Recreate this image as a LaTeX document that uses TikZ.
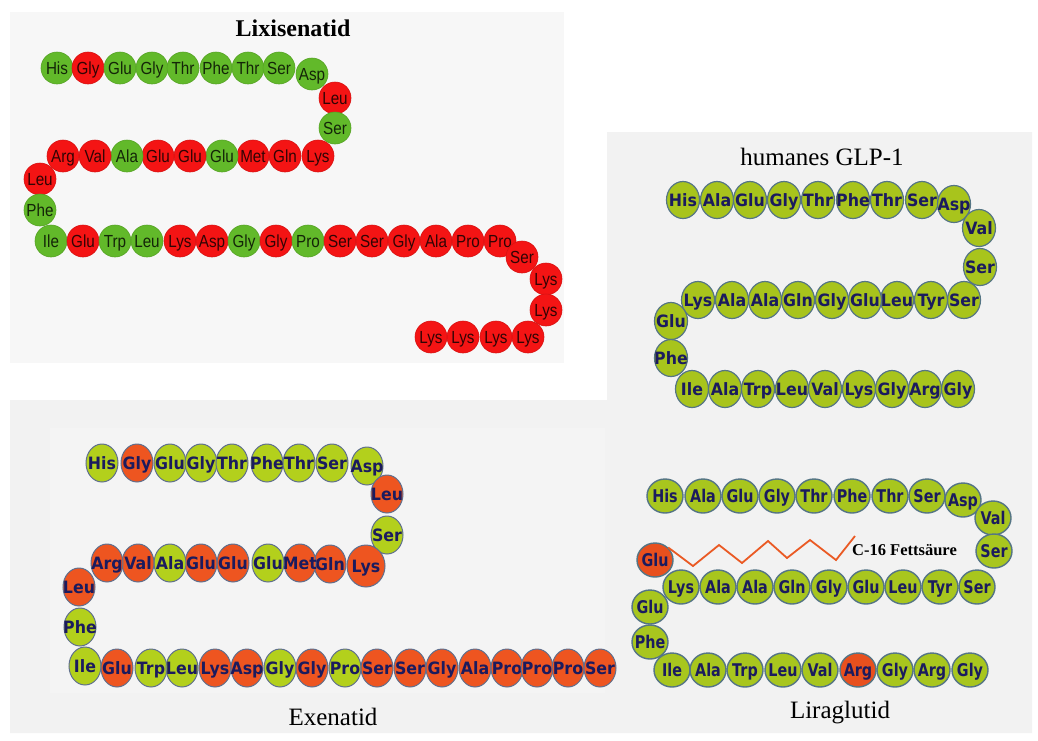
\documentclass[tikz,border=0pt]{standalone}
\usepackage{fontspec}
\setmainfont{Liberation Serif}
\newfontfamily\lxfont[FakeStretch=0.87]{Liberation Sans}
\newfontfamily\exfont[FakeStretch=0.93]{DejaVu Sans}
\newfontfamily\lgfont[FakeStretch=0.82]{DejaVu Sans}
\usetikzlibrary{shapes.geometric}
\definecolor{LG}{HTML}{62B92A}
\definecolor{LR}{HTML}{F41414}
\definecolor{EG}{HTML}{B3D01C}
\definecolor{EO}{HTML}{EE5520}
\definecolor{GG}{HTML}{A8C41C}
\definecolor{RG}{HTML}{A8C61E}
\definecolor{RR}{HTML}{E8501E}
\definecolor{navy}{HTML}{1B1B5E}
\definecolor{exline}{HTML}{5F6F8E}
\definecolor{glline}{HTML}{557585}
\definecolor{panelA}{HTML}{F7F7F7}
\definecolor{panelB}{HTML}{F2F2F2}
\definecolor{panelC}{HTML}{F4F4F4}
\definecolor{fatty}{HTML}{EA5A24}
\tikzset{
  lx/.style={circle, minimum size=32pt, inner sep=0pt,
    font=\lxfont\fontsize{17.5}{17.5}\selectfont, text=black, text opacity=0.8,
    text height=12.5pt, text depth=0pt, line width=0.6pt},
  ex/.style={ellipse, minimum width=32pt, minimum height=38pt, inner sep=0pt,
    font=\exfont\bfseries\fontsize{17}{17}\selectfont, text=navy,
    text height=12.4pt, text depth=0pt, draw=exline, line width=1pt},
  exbig/.style={ex, minimum width=38pt, minimum height=42pt},
  gl/.style={ellipse, minimum width=33pt, minimum height=37pt, inner sep=0pt,
    font=\exfont\bfseries\fontsize{17}{17}\selectfont, text=navy,
    text height=12.4pt, text depth=0pt, draw=glline, line width=1.2pt, fill=GG},
  lg/.style={ellipse, minimum width=36pt, minimum height=34pt, inner sep=0pt,
    font=\lgfont\bfseries\fontsize{17.5}{17.5}\selectfont, text=navy,
    text height=12.8pt, text depth=0pt, draw=glline, line width=1.4pt},
  title/.style={inner sep=0pt, font=\fontsize{25}{25}\selectfont, text=black},
  fattyline/.style={draw=fatty, line width=1.8pt, line join=miter},
}
\begin{document}
\begin{tikzpicture}[x=1pt,y=-1pt]
\useasboundingbox (0,0) rectangle (1038,740);
\fill[white] (0,0) rectangle (1038,740);
% panels
\fill[panelA] (10,12) rectangle (564,363);
\fill[panelB] (607,132) -- (1032,132) -- (1032,733) -- (10,733) -- (10,400) -- (607,400) -- cycle;
\fill[panelC] (50,428) rectangle (605,693);

% ---------- Lixisenatid ----------
\node[title, font=\bfseries\fontsize{24}{24}\selectfont] (tLix) at (293,28) {Lixisenatid};
\foreach \i/\x/\y/\t/\c in {
 1/57/68/His/LG, 2/88/68/Gly/LR, 3/120/68/Glu/LG, 4/152/68/Gly/LG, 5/183/68/Thr/LG,
 6/216/68/Phe/LG, 7/248/68/Thr/LG, 8/279/68/Ser/LG, 9/312/74/Asp/LG,
 10/335/98/Leu/LR, 11/335/128/Ser/LG,
 12/318/156/Lys/LR, 13/285/156/Gln/LR, 14/253/156/Met/LR, 15/222/156/Glu/LG,
 16/190/156/Glu/LR, 17/158/156/Glu/LR, 18/127/156/Ala/LG, 19/95/156/Val/LR, 20/63/156/Arg/LR,
 21/40/179/Leu/LR, 22/40/210/Phe/LG,
 23/51/241/Ile/LG, 24/83/241/Glu/LR, 25/115/241/Trp/LG, 26/147/241/Leu/LG, 27/180/241/Lys/LR,
 28/212/241/Asp/LR, 29/244/241/Gly/LG, 30/276/241/Gly/LR, 31/308/241/Pro/LG, 32/340/241/Ser/LR,
 33/372/241/Ser/LR, 34/404/241/Gly/LR, 35/436/241/Ala/LR, 36/468/241/Pro/LR, 37/500/241/Pro/LR,
 38/522/257/Ser/LR, 39/546/279/Lys/LR, 40/546/310/Lys/LR,
 41/528/337/Lys/LR, 42/496/337/Lys/LR, 43/463/337/Lys/LR, 44/431/337/Lys/LR}
 \node[lx, fill=\c, draw=\c!88!black] (lx\i) at (\x,\y) {\makebox[0pt]{\t}};

% ---------- humanes GLP-1 ----------
\node[title] (tGLP) at (822,157) {humanes GLP-1};
\foreach \i/\x/\y/\t in {
 1/683/200/His, 2/717/200/Ala, 3/750/200/Glu, 4/784/200/Gly, 5/818/200/Thr,
 6/853/200/Phe, 7/887/200/Thr, 8/922/200/Ser, 9/954/204/Asp,
 10/979/228/Val, 11/980/267/Ser,
 12/964/300/Ser, 13/931/300/Tyr, 14/897/300/Leu, 15/865/300/Glu, 16/832/300/Gly,
 17/798/300/Gln, 18/765/300/Ala, 19/732/300/Ala, 20/698/300/Lys,
 21/671/321/Glu, 22/671/358/Phe,
 23/692/389/Ile, 24/725/389/Ala, 25/758/389/Trp, 26/792/389/Leu, 27/825/389/Val,
 28/859/389/Lys, 29/892/389/Gly, 30/925/389/Arg, 31/958/389/Gly}
 \node[gl] (gl\i) at (\x,\y) {\makebox[0pt]{\t}};

% ---------- Exenatid ----------
\node[title] (tExe) at (333,717) {Exenatid};
\foreach \i/\x/\y/\t/\c in {
 1/102/463/His/EG, 2/137/463/Gly/EO, 3/170/463/Glu/EG, 4/201/463/Gly/EG, 5/232/463/Thr/EG,
 6/267/463/Phe/EG, 7/299/463/Thr/EG, 8/332/463/Ser/EG, 9/367/466/Asp/EG,
 10/387/494/Leu/EO, 11/387/535/Ser/EG,
 13/330/564/Gln/EO, 14/300/563/Met/EO, 15/268/563/Glu/EG,
 16/233/563/Glu/EO, 17/201/563/Glu/EO, 18/170/563/Ala/EG, 19/138/563/Val/EO, 20/107/563/Arg/EO,
 21/79/587/Leu/EO, 22/80/627/Phe/EG, 23/85/666/Ile/EG,
 24/117/668/Glu/EO, 25/151/668/Trp/EG, 26/182/668/Leu/EG, 27/215/668/Lys/EO, 28/247/668/Asp/EO,
 29/280/668/Gly/EG, 30/312/668/Gly/EO, 31/345/668/Pro/EG, 32/377/668/Ser/EO, 33/410/668/Ser/EO,
 34/442/668/Gly/EO, 35/475/668/Ala/EO, 36/507/668/Pro/EO, 37/537/668/Pro/EO, 38/568/668/Pro/EO,
 39/600/668/Ser/EO}
 \node[ex, fill=\c] (ex\i) at (\x,\y) {\makebox[0pt]{\t}};
\node[exbig, fill=EO] (ex12) at (366,566) {\makebox[0pt]{Lys}};

% ---------- Liraglutid ----------
\node[title] (tLir) at (840,713) {Liraglutid};
\foreach \i/\x/\y/\t/\c in {
 1/665/496/His/RG, 2/703/496/Ala/RG, 3/740/496/Glu/RG, 4/777/496/Gly/RG, 5/814/496/Thr/RG,
 6/852/496/Phe/RG, 7/890/496/Thr/RG, 8/927/496/Ser/RG, 9/963/500/Asp/RG,
 10/993/518/Val/RG, 11/994/551/Ser/RG,
 12/977/587/Ser/RG, 13/940/587/Tyr/RG, 14/903/587/Leu/RG, 15/866/587/Glu/RG, 16/829/587/Gly/RG,
 17/792/587/Gln/RG, 18/755/587/Ala/RG, 19/718/587/Ala/RG, 20/681/587/Lys/RG,
 21/650/607/Glu/RG, 22/650/642/Phe/RG,
 23/672/670/Ile/RG, 24/708/670/Ala/RG, 25/745/670/Trp/RG, 26/783/670/Leu/RG, 27/820/670/Val/RG,
 28/858/670/Arg/RR, 29/895/670/Gly/RG, 30/932/670/Arg/RG, 31/970/670/Gly/RG}
 \node[lg, fill=\c] (lg\i) at (\x,\y) {\makebox[0pt]{\t}};
\node[lg, fill=RR] (lgF) at (655,560) {\makebox[0pt]{Glu}};

% fatty acid chain
\coordinate (z1) at (693,566);
\coordinate (z2) at (719,545);
\coordinate (z3) at (742,563);
\coordinate (z4) at (768,541);
\coordinate (z5) at (787,558);
\coordinate (z6) at (810,540);
\coordinate (z7) at (836,560);
\coordinate (z8) at (855,536);
\draw[fattyline] (lgF.north east) -- (z1) -- (z2) -- (z3) -- (z4) -- (z5) -- (z6) -- (z7) -- (z8);
\node[anchor=west, inner sep=0pt, font=\bfseries\fontsize{16.5}{16.5}\selectfont] (fs) at (852,550) {C-16 Fettsäure};
\end{tikzpicture}
\end{document}
